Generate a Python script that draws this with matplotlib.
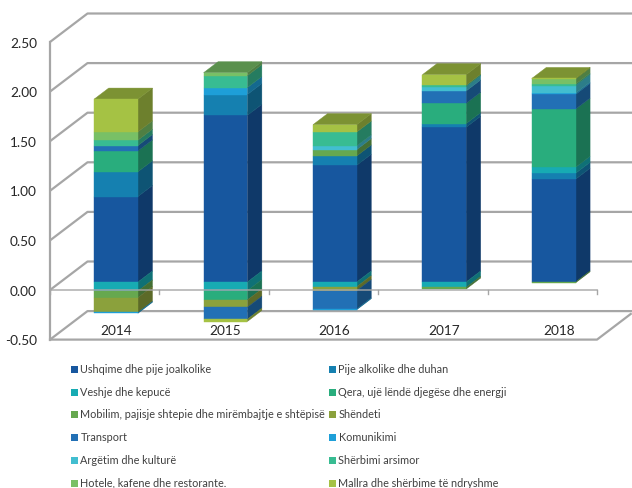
import matplotlib
matplotlib.use("Agg")
import matplotlib.pyplot as plt

plt.rcParams['font.family'] = ['Lato', 'DejaVu Sans']

years = ['2014', '2015', '2016', '2017', '2018']
ticks = [-0.5, 0, 0.5, 1.0, 1.5, 2.0, 2.5]

ushqime = [0.862, 1.68, 1.177, 1.56, 1.036]
pije = [0.25, 0.21, 0.094, 0.037, 0.06]
veshje = [-0.09, -0.087, -0.047, -0.054, 0.06]
qera = [0.21, -0.094, 0, 0.205, 0.587]
mobilim = [-0.067, 0, 0.064, -0.017, -0.008]
shendeti = [-0.15, -0.074, -0.04, 0, 0]
transport = [0.054, -0.12, -0.185, 0.124, 0.148]
komunikimi = [-0.008, 0.07, -0.007, 0, 0.013]
argetim = [0, 0, 0.037, 0.044, 0.077]
sherbimi = [0.054, 0.12, 0.14, 0.013, 0.013]
hotele = [0.084, 0.03, 0, 0, 0.054]
mallra = [0.33, -0.023, 0.074, 0.107, 0.004]

series = [ushqime, pije, veshje, qera, mobilim, shendeti,
          transport, komunikimi, argetim, sherbimi, hotele, mallra]
names = ['Ushqime dhe pije joalkolike', 'Pije alkolike dhe duhan',
         'Veshje dhe kepucë', 'Qera, ujë lëndë djegëse dhe energji',
         'Mobilim, pajisje shtepie dhe mirëmbajtje e shtëpisë', 'Shëndeti',
         'Transport', 'Komunikimi',
         'Argëtim dhe kulturë', 'Shërbimi arsimor',
         'Hotele, kafene dhe restorante.', 'Mallra dhe shërbime të ndryshme']
colors = ['#17579F', '#1580B0', '#17ABB3', '#29AD7D', '#66A84F', '#8BA13C',
          '#2270B5', '#1E9FD8', '#42BED0', '#38BC92', '#78C066', '#A5C244']

# oblique projection, everything in image pixels
X0, SLOT = 50, 109.4
Y0, UNIT = 290, 99.2
DX, DY = 37.5, 28.5
BAR_FRONT, BAR_BACK = 0.28, 0.667
BAR_W = 0.4
BAR_SHIFT = 0.008


def proj(slot, val, depth):
    return X0 + slot * SLOT + depth * DX, Y0 - val * UNIT - depth * DY


def shade(col, f):
    rgb = matplotlib.colors.to_rgb(col)
    return tuple(c * f for c in rgb)


def face(pts, col, z=3):
    xs, ys = zip(*pts)
    ax.fill(xs, ys, color=col, lw=0.3, zorder=z)


fig = plt.figure(figsize=(6.32, 4.88), dpi=100)
ax = fig.add_axes([0, 0, 1, 1])
ax.set_xlim(0, 632)
ax.set_ylim(488, 0)
ax.axis('off')

GREY = '#A6A6A6'
n = len(years)

# walls
right = (632 - X0 - DX) / SLOT
for t in ticks:
    a = proj(0, t, 0)
    b = proj(0, t, 1)
    c = proj(right, t, 1)
    ax.plot([a[0], b[0], c[0]], [a[1], b[1], c[1]], color=GREY, lw=1.6, zorder=1,
            solid_capstyle='butt')
    ax.text(a[0] - 13, a[1] + 1.5, '%.2f' % t, ha='right', va='center', fontsize=9.8, color='#262626')
a, b = proj(0, -0.5, 0), proj(0, 2.5, 0)
ax.plot([a[0], b[0]], [a[1], b[1]], color=GREY, lw=1.6, zorder=1)

# floor
a, b, c = proj(0, -0.5, 0), proj(n, -0.5, 0), proj(n, -0.5, 0.9)
ax.plot([a[0], b[0], c[0]], [a[1], b[1], c[1]], color=GREY, lw=1.6, zorder=1)

# bars
for i in range(n):
    left = i + 0.5 - BAR_W / 2 + BAR_SHIFT
    rgt = i + 0.5 + BAR_W / 2 + BAR_SHIFT
    pos, neg = 0, 0
    top_col = None
    for vals, col in zip(series, colors):
        v = vals[i]
        if v == 0:
            continue
        if v > 0:
            lo, hi = pos, pos + v
            pos = hi
            top_col = col
        else:
            lo, hi = neg + v, neg
            neg = lo
        face([proj(rgt, lo, BAR_FRONT), proj(rgt, lo, BAR_BACK),
              proj(rgt, hi, BAR_BACK), proj(rgt, hi, BAR_FRONT)], shade(col, 0.66))
        face([proj(left, lo, BAR_FRONT), proj(rgt, lo, BAR_FRONT),
              proj(rgt, hi, BAR_FRONT), proj(left, hi, BAR_FRONT)], col, z=4)
    face([proj(left, pos, BAR_FRONT), proj(rgt, pos, BAR_FRONT),
          proj(rgt, pos, BAR_BACK), proj(left, pos, BAR_BACK)], shade(top_col, 0.75))

# zero plane line + ticks, sits over the bars
a, b = proj(0, 0, 0), proj(n, 0, 0)
ax.plot([a[0], b[0]], [a[1], b[1]], color=GREY, lw=1.2, alpha=0.85, zorder=5)
for i in range(n + 1):
    a = proj(i, 0, 0)
    ax.plot([a[0], a[0]], [a[1], a[1] + 4], color=GREY, lw=1, zorder=5)

# category labels
for i, y in enumerate(years):
    shift = 6 if i == n - 1 else 0
    a = proj(i + 0.5, -0.5, BAR_FRONT)
    ax.text(a[0] + shift + 0.5, 331, y, ha='center', va='center', fontsize=9.8, color='#262626')

# legend
for k, (name, col) in enumerate(zip(names, colors)):
    row, column = k // 2, k % 2
    lx = 71 + column * 258
    ly = 369.3 + row * 22.8
    ax.fill([lx, lx + 7, lx + 7, lx], [ly - 3.5, ly - 3.5, ly + 3.5, ly + 3.5], color=col, lw=0)
    ax.text(lx + 9.5, ly, name, ha='left', va='center', fontsize=7.85, color='#404040')

fig.savefig('out.png', dpi=100)
